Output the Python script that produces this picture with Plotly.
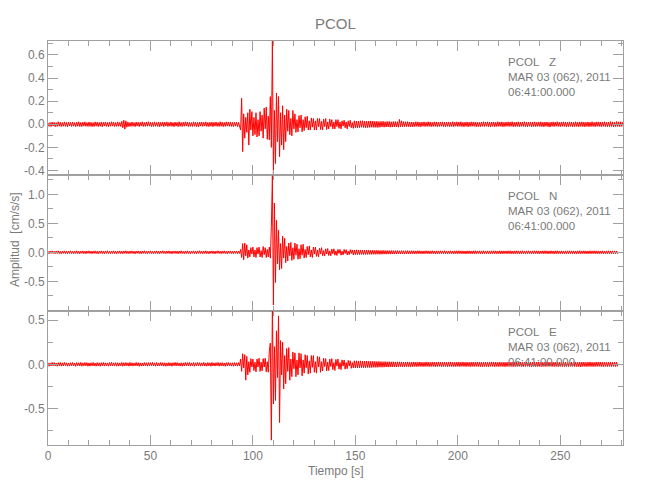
import numpy as np
import plotly.graph_objects as go

# ---------------- data, 0.5 s samples ----------------
# pre: 0 .. 91.5 s, evt: 92 .. 149.5 s, post: 150 s .. end
z_pre = [.012,-.018,.016,-.020,.019,-.015,.017,-.021,.014,-.019,.022,-.016,.018,-.020,.015,-.017,.021,-.018,.016,-.022,
         .019,-.015,.017,-.019,.020,-.016,.014,-.021,.018,-.017,.022,-.019,.016,-.020,.018,-.016,.021,-.017,.015,-.019,
         .020,-.018,.017,-.021,.015,-.019,.021,-.016,.018,-.020,.016,-.017,.019,-.022,.017,-.015,.020,-.018,.016,-.021,
         .018,-.017,.022,-.016,.019,-.020,.015,-.018,.021,-.017,.016,-.019,.025,-.030,.035,-.042,.030,-.025,.019,-.020,
         .016,-.018,.020,-.017,.015,-.021,.019,-.016,.018,-.020,.017,-.015,.021,-.019,.016,-.018,.020,-.017,.022,-.016,
         .018,-.020,.016,-.019,.021,-.017,.015,-.018,.020,-.022,.017,-.016,.019,-.020,.018,-.015,.021,-.019,.016,-.017,
         .020,-.018,.015,-.021,.019,-.016,.017,-.020,.022,-.018,.016,-.019,.018,-.017,.021,-.015,.019,-.020,.017,-.018,
         .015,-.019,.021,-.017,.018,-.020,.016,-.022,.019,-.016,.020,-.018,.017,-.015,.021,-.019,.016,-.020,.018,-.017,
         .019,-.021,.017,-.016,.020,-.018,.015,-.019,.022,-.017,.018,-.020,.016,-.018,.021,-.016,.019,-.017,.020,-.019,
         .017,-.020,.018,-.016]
z_evt = [.018,-.020,.016,-.022,
         -.050,.225,-.237,.090,-.120,.060,
         -.070,.100,-.180,.130,-.050,.110,-.100,.060,-.090,.100,
         -.110,.040,-.100,.110,-.060,.080,-.120,.140,-.040,.150,
         -.130,.070,-.135,.240,-.200,.720,-.430,.120,-.340,.270,
         -.150,.240,-.280,.100,-.180,.160,-.220,.080,-.150,.130,
         -.060,.120,-.090,.050,-.100,.120,-.040,.090,-.070,.040,
         -.065,.075,-.030,.080,-.065,.040,-.055,.065,-.030,.070,
         -.050,.030,-.050,.055,-.025,.050,-.050,.030,-.050,.050,
         -.020,.050,-.045,.025,-.050,.045,-.020,.050,-.045,.020,
         -.040,.045,-.020,.040,-.040,.020,-.040,.040,-.020,.040,
         -.035,.020,-.040,.030,-.015,.035,-.030,.020,-.040,.030,
         -.020,.035,-.030,.015,-.035,.030]
z_post = [-.030,.028,-.032,.027,-.029,.030,-.026,.031,-.028,.027,-.030,.026,-.029,.028,-.027,.029,-.026,.028,-.027,.025,
          -.027,.026,-.028,.024,-.026,.025,-.023,.026,-.025,.022,-.024,.025,-.023,.024,-.025,.022,-.024,.023,-.022,.024,
          -.023,.022,-.025,.042,-.022,.030,-.021,.023,-.021,.022,-.020,.023,-.021,.019,-.022,.020,-.021,.018,-.020,.022,
          -.019,.021,-.020,.018,-.022,.019,-.017,.021,-.020,.018,-.019,.022,-.018,.020,-.021,.017,-.019,.021,-.018,.020,
          -.021,.018,-.019,.020,-.017,.021,-.020,.018,-.022,.019,-.018,.020,-.021,.017,-.019,.022,-.020,.018,-.017,.021,
          -.019,.020,-.018,.022,-.020,.017,-.021,.019,-.018,.020,-.022,.018,-.019,.021,-.017,.020,-.018,.019,-.021,.018,
          -.020,.017,-.021,.019,-.018,.022,-.019,.020,-.017,.021,-.020,.018,-.022,.019,-.018,.020,-.021,.017,-.019,.022,
          -.018,.020,-.019,.021,-.022,.018,-.020,.019,-.017,.021,-.019,.020,-.018,.022,-.021,.017,-.020,.019,-.018,.021,
          -.021,.019,-.018,.020,-.019,.022,-.020,.018,-.021,.019,-.017,.020,-.022,.018,-.019,.021,-.020,.017,-.018,.020,
          -.019,.021,-.020,.018,-.022,.019,-.018,.020,-.021,.017,-.024,.019,-.018,.021,-.020,.019,-.017,.022,-.019,.018,
          -.020,.019,-.018,.021,-.019,.020,-.022,.018,-.020,.021,-.018,.019,-.021,.017,-.020,.022,-.019,.018,-.021,.020,
          -.018,.021,-.020,.019,-.022,.018,-.019,.020,-.021,.018,-.020,.022,-.019,.017,-.021,.020,-.018,.021,-.019,.020,
          -.021,.019,-.018,.022,-.020,.018,-.021,.019,-.020,.023,-.019,.021,-.022,.018,-.020,.024,-.019,.021,-.020,.022,
          -.019,.020]

n_pre = [.020,-.025,.022,-.018,.026,-.021,.019,-.024,.023,-.020,.025,-.022,.018,-.026,.021,-.019,.024,-.023,.020,-.025,
         .022,-.019,.026,-.021,.018,-.024,.023,-.020,.025,-.022,.019,-.026,.021,-.018,.024,-.023,.020,-.025,.022,-.019,
         .026,-.021,.019,-.024,.022,-.020,.025,-.023,.018,-.026,.021,-.019,.024,-.022,.020,-.025,.023,-.018,.026,-.021,
         .019,-.024,.023,-.020,.025,-.022,.018,-.026,.021,-.019,.024,-.023,.020,-.025,.022,-.018,.026,-.021,.019,-.024,
         .023,-.020,.025,-.022,.019,-.026,.021,-.018,.024,-.023,.020,-.025,.022,-.019,.026,-.021,.018,-.024,.023,-.020,
         .025,-.022,.018,-.026,.021,-.019,.024,-.023,.020,-.025,.022,-.018,.026,-.021,.019,-.024,.023,-.020,.025,-.022,
         .019,-.026,.021,-.018,.024,-.023,.020,-.025,.022,-.019,.026,-.021,.018,-.024,.023,-.020,.025,-.022,.019,-.026,
         .021,-.019,.024,-.022,.020,-.025,.023,-.018,.026,-.021,.019,-.024,.022,-.020,.025,-.023,.018,-.026,.021,-.019,
         .024,-.023,.020,-.025,.022,-.018,.026,-.021,.019,-.024,.023,-.020,.025,-.022,.018,-.026,.021,-.019,.024,-.023,
         .020,-.025,.022,-.018]
n_evt = [.020,-.025,.022,-.020,
         .050,-.090,.150,-.130,.160,-.060,
         .130,-.100,.040,-.080,.080,-.030,.090,-.080,.040,-.090,
         .080,-.030,.090,-.080,.030,-.090,.100,-.040,.080,-.090,
         .050,-.080,.090,-.100,.450,1.320,-.910,.850,-.520,.550,
         -.200,.380,-.300,.150,-.280,.280,-.100,.240,-.180,.100,
         -.150,.160,-.060,.170,-.140,.080,-.120,.160,-.050,.140,
         -.120,.060,-.110,.130,-.050,.140,-.100,.050,-.090,.100,
         -.040,.110,-.080,.040,-.090,.090,-.030,.090,-.070,.040,
         -.080,.070,-.030,.080,-.060,.030,-.065,.060,-.030,.065,
         -.055,.025,-.060,.055,-.025,.060,-.050,.025,-.055,.050,
         -.020,.050,-.050,.020,-.045,.050,-.020,.045,-.045,.020,
         -.040,.045,-.020,.040,-.045,.040]
n_post = [-.040,.042,-.038,.041,-.039,.040,-.037,.039,-.038,.036,-.037,.038,-.035,.037,-.036,.034,-.035,.036,-.034,.033,
          -.034,.035,-.033,.032,-.034,.031,-.032,.033,-.031,.030,-.032,.031,-.030,.029,-.031,.030,-.029,.028,-.030,.029,
          -.028,.030,-.029,.027,-.028,.029,-.027,.026,-.028,.027,-.026,.028,-.027,.025,-.026,.027,-.025,.026,-.027,.024,
          -.025,.027,-.024,.026,-.025,.023,-.026,.025,-.024,.027,-.023,.025,-.026,.024,-.025,.027,-.024,.023,-.026,.025,
          -.027,.024,-.025,.026,-.023,.025,-.024,.027,-.025,.023,-.026,.024,-.025,.026,-.024,.023,-.027,.025,-.024,.026,
          -.025,.027,-.023,.025,-.026,.024,-.025,.023,-.027,.025,-.024,.026,-.025,.023,-.026,.025,-.024,.027,-.025,.024,
          -.023,.025,-.026,.024,-.025,.027,-.024,.023,-.026,.025,-.025,.024,-.027,.025,-.023,.026,-.024,.025,-.026,.023,
          -.024,.026,-.025,.024,-.026,.025,-.023,.024,-.025,.026,-.024,.027,-.025,.023,-.026,.024,-.025,.026,-.023,.025,
          -.026,.024,-.025,.027,-.024,.023,-.026,.025,-.024,.026,-.025,.023,-.027,.025,-.024,.026,-.023,.025,-.026,.024,
          -.025,.023,-.024,.026,-.025,.027,-.023,.025,-.026,.024,-.025,.026,-.024,.023,-.027,.025,-.024,.026,-.025,.023,
          -.024,.025,-.026,.023,-.025,.024,-.027,.025,-.023,.026,-.024,.025,-.026,.024,-.025,.023,-.026,.025,-.024,.027,
          -.025,.024,-.023,.026,-.025,.024,-.026,.023,-.025,.027,-.024,.025,-.023,.026,-.024,.025,-.026,.024,-.025,.023,
          -.024,.026,-.025,.023,-.026,.025,-.024,.026,-.025,.024,-.023,.025,-.026,.024,-.025,.023,-.024]

e_pre = [.018,-.021,.016,-.019,.022,-.017,.020,-.018,.015,-.022,.019,-.016,.021,-.020,.017,-.019,.022,-.015,.018,-.021,
         .016,-.020,.019,-.017,.021,-.018,.015,-.022,.020,-.016,.018,-.019,.022,-.021,.017,-.018,.020,-.016,.019,-.022,
         .016,-.020,.018,-.017,.021,-.019,.015,-.021,.020,-.018,.017,-.022,.019,-.016,.021,-.020,.018,-.017,.016,-.021,
         .020,-.018,.022,-.019,.017,-.016,.019,-.021,.018,-.020,.016,-.017,.021,-.022,.019,-.018,.020,-.016,.017,-.021,
         .022,-.019,.018,-.020,.016,-.017,.021,-.018,.019,-.022,.017,-.020,.015,-.019,.021,-.016,.018,-.021,.020,-.017,
         .019,-.016,.022,-.018,.017,-.021,.020,-.019,.016,-.018,.021,-.017,.019,-.020,.018,-.022,.016,-.019,.020,-.018,
         .017,-.021,.019,-.016,.022,-.018,.020,-.017,.015,-.020,.018,-.021,.017,-.019,.021,-.016,.019,-.018,.022,-.020,
         .016,-.019,.020,-.022,.018,-.017,.021,-.016,.019,-.020,.017,-.018,.022,-.019,.016,-.021,.020,-.017,.018,-.022,
         .021,-.018,.017,-.020,.019,-.016,.022,-.021,.018,-.017,.020,-.019,.016,-.022,.019,-.018,.021,-.016,.017,-.020,
         .018,-.021,.020,-.019]
e_evt = [.018,-.020,.020,-.018,
         .060,-.080,.120,-.040,.110,-.180,
         .090,-.120,.030,-.090,.065,-.030,.060,-.070,.025,-.085,
         .060,-.030,.070,-.080,.025,-.075,.065,-.030,.070,-.085,
         .030,-.090,.150,.240,-.860,.700,-.450,.200,-.410,.380,
         -.150,.550,-.660,.270,-.120,.250,-.280,.100,-.220,.180,
         -.080,.190,-.180,.060,-.140,.140,-.050,.130,-.140,.050,
         -.120,.130,-.040,.120,-.130,.050,-.100,.110,-.040,.100,
         -.110,.040,-.100,.100,-.035,.100,-.090,.030,-.100,.090,
         -.030,.085,-.090,.030,-.075,.070,-.025,.065,-.075,.025,
         -.070,.060,-.025,.065,-.060,.020,-.070,.055,-.020,.060,
         -.055,.020,-.060,.050,-.020,.050,-.055,.020,-.050,.045,
         -.020,.040,-.045,.020,-.040,.040]
e_post = [-.042,.040,-.041,.038,-.040,.039,-.038,.037,-.039,.036,-.038,.037,-.036,.035,-.037,.034,-.036,.035,-.034,.033,
          -.035,.032,-.034,.033,-.032,.031,-.033,.030,-.032,.031,-.030,.029,-.031,.030,-.029,.028,-.030,.029,-.028,.027,
          -.029,.028,-.027,.028,-.026,.027,-.028,.025,-.027,.026,-.025,.027,-.026,.024,-.027,.025,-.026,.027,-.024,.025,
          -.026,.025,-.024,.027,-.025,.023,-.026,.024,-.025,.027,-.024,.025,-.026,.023,-.025,.026,-.024,.025,-.027,.024,
          -.025,.026,-.023,.025,-.027,.024,-.025,.026,-.024,.023,-.026,.025,-.024,.027,-.025,.024,-.026,.023,-.025,.026,
          -.024,.025,-.026,.024,-.023,.027,-.025,.024,-.026,.025,-.024,.023,-.027,.025,-.024,.026,-.025,.024,-.023,.026,
          -.025,.024,-.026,.025,-.027,.023,-.024,.026,-.025,.024,-.026,.025,-.023,.027,-.024,.025,-.026,.024,-.025,.023,
          -.026,.025,-.024,.023,-.026,.025,-.027,.024,-.025,.026,-.024,.023,-.025,.027,-.026,.024,-.025,.026,-.024,.025,
          -.023,.026,-.025,.024,-.026,.027,-.024,.025,-.023,.026,-.025,.024,-.027,.025,-.024,.023,-.026,.025,-.024,.026,
          -.025,.024,-.026,.023,-.025,.026,-.024,.027,-.025,.024,-.023,.026,-.025,.024,-.026,.025,-.024,.023,-.027,.025,
          -.024,.026,-.025,.023,-.026,.025,-.024,.026,-.025,.027,-.024,.025,-.023,.026,-.025,.024,-.026,.023,-.025,.024,
          -.030,.025,-.024,.026,-.025,.023,-.026,.025,-.024,.027,-.025,.024,-.026,.023,-.025,.026,-.024,.025,-.023,.026,
          -.025,.024,-.026,.025,-.024,.023,-.026,.025,-.024,.026,-.025,.023,-.024,.026,-.025,.024,-.025]

x_tick_vals = [0, 50, 100, 150, 200, 250]
x_tick_text = ["0", "50", "100", "150", "200", "250"]
z_tick_vals = [-0.4, -0.2, 0.0, 0.2, 0.4, 0.6]
z_tick_text = ["-0.4", "-0.2", "0.0", "0.2", "0.4", "0.6"]
n_tick_vals = [-0.5, 0.0, 0.5, 1.0]
n_tick_text = ["-0.5", "0.0", "0.5", "1.0"]
e_tick_vals = [-0.5, 0.0, 0.5]
e_tick_text = ["-0.5", "0.0", "0.5"]

station = "PCOL"
components = ["Z", "N", "E"]
date_text = "MAR 03 (062), 2011"
time_text = "06:41:00.000"


def time_grid(pre, evt, post):
    return np.concatenate([
        np.arange(len(pre)) * 0.5,
        92.0 + np.arange(len(evt)) * 0.5,
        150.0 + np.arange(len(post)) * 0.5,
    ])


series = [
    (time_grid(z_pre, z_evt, z_post), np.array(z_pre + z_evt + z_post)),
    (time_grid(n_pre, n_evt, n_post), np.array(n_pre + n_evt + n_post)),
    (time_grid(e_pre, e_evt, e_post), np.array(e_pre + e_evt + e_post)),
]

# ---------------- styling ----------------
FONT = "Liberation Sans, Arial, sans-serif"
TEXT = "#7a7a7a"
FRAME = "#a0a0a0"
OFF = 8                      # page body margin
W, H = 642, 492
L, R, T, B = 40, 27, 33, 55
PW, PH = W - L - R, H - T - B
bounds = [41, 175, 311, 445]   # window rows of panel frames


def py(wy):
    return (H - B - (wy - OFF)) / PH


def px(wx):
    return (wx - OFF - L) / PW


fig = go.Figure()
for i, (t, v) in enumerate(series):
    sfx = "" if i == 0 else str(i + 1)
    fig.add_trace(go.Scatter(x=t, y=v, mode="lines",
                             line=dict(color="#ff0000", width=1),
                             xaxis="x" + sfx, yaxis="y" + sfx,
                             hoverinfo="skip", showlegend=False))

common = dict(showline=True, linecolor=FRAME, linewidth=1, mirror="ticks",
              ticks="inside", ticklen=10, tickwidth=1, tickcolor=FRAME,
              showgrid=False, zeroline=False,
              tickfont=dict(family=FONT, size=12, color=TEXT))

xr = [0, 280.6]
yranges = [[-0.439, 0.721], [-1.012, 1.333], [-0.915, 0.605]]
yticks = [(z_tick_vals, z_tick_text, 0.1), (n_tick_vals, n_tick_text, 0.25),
          (e_tick_vals, e_tick_text, 0.25)]

layout = dict(width=W, height=H, margin=dict(l=L, r=R, t=T, b=B),
              paper_bgcolor="white", plot_bgcolor="white", showlegend=False)
for i in range(3):
    sfx = "" if i == 0 else str(i + 1)
    layout["xaxis" + sfx] = dict(
        common, domain=[0, 1], anchor="y" + sfx, range=xr,
        tickmode="array", tickvals=x_tick_vals, ticktext=x_tick_text,
        showticklabels=(i == 2),
        minor=dict(ticks="inside", ticklen=5, tickcolor=FRAME,
                   tickmode="linear", tick0=0, dtick=10, showgrid=False))
    vals, txt, mdt = yticks[i]
    layout["yaxis" + sfx] = dict(
        common, domain=[py(bounds[i + 1]), py(bounds[i])], anchor="x" + sfx,
        range=yranges[i], tickmode="array", tickvals=vals, ticktext=txt,
        minor=dict(ticks="inside", ticklen=5, tickcolor=FRAME,
                   tickmode="linear", tick0=0, dtick=mdt, showgrid=False))

fig.update_layout(**layout)

ann = []
for i, comp in enumerate(components):
    top = bounds[i]
    lines = [station + "\u00a0\u00a0\u00a0" + comp, date_text, time_text]
    for k, s in enumerate(lines):
        ann.append(dict(text=s, xref="paper", yref="paper",
                        x=px(506), y=py(top + 21 + 15 * k),
                        xanchor="left", yanchor="middle", showarrow=False,
                        font=dict(family=FONT, size=11.5, color=TEXT)))
ann.append(dict(text=station, xref="paper", yref="paper", x=0.5, y=py(24),
                xanchor="center", yanchor="middle", showarrow=False,
                font=dict(family=FONT, size=15, color=TEXT)))
ann.append(dict(text="Tiempo [s]", xref="paper", yref="paper", x=0.5,
                y=py(471), xanchor="center", yanchor="middle",
                showarrow=False, font=dict(family=FONT, size=12, color=TEXT)))
ann.append(dict(text="Amplitud\u00a0\u00a0[cm/s/s]", xref="paper",
                yref="paper", x=px(15), y=py(240), textangle=-90,
                xanchor="center", yanchor="middle", showarrow=False,
                font=dict(family=FONT, size=12, color=TEXT)))
fig.update_layout(annotations=ann)

fig.write_html("out.html")
